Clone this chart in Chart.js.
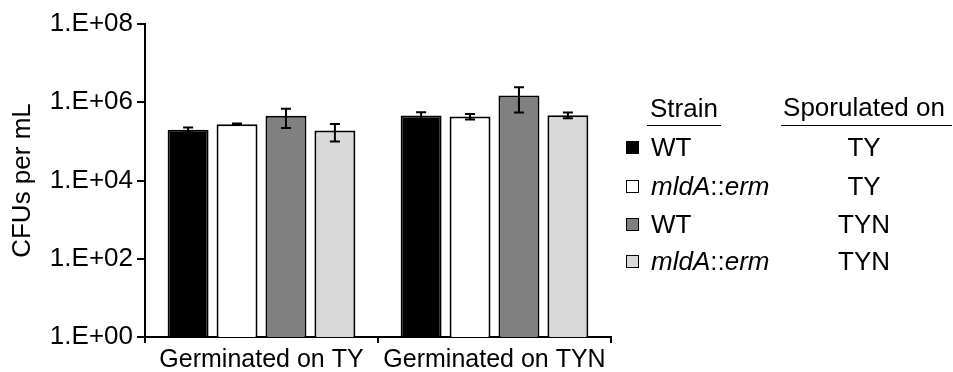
<!DOCTYPE html>
<html>
<head>
<meta charset="utf-8">
<script src="https://cdn.jsdelivr.net/npm/chart.js@4"></script>
<style>
  html, body { margin: 0; padding: 0; background: #fff; }
  body { width: 953px; height: 372px; position: relative; overflow: hidden;
         font-family: "Liberation Sans", Arial, sans-serif; color: #000; }
  #wrap { position: absolute; left: 0; top: 0; width: 953px; height: 372px; }
  .lg { position: absolute; font-size: 26px; line-height: 30px; white-space: nowrap; }
  .sw { position: absolute; width: 13px; height: 13px; box-sizing: border-box; border: 1.5px solid #000; }
  .ul { position: absolute; height: 0; border-top: 1.5px solid #000; }
</style>
</head>
<body>
<div id="wrap"><canvas id="c" width="953" height="372"></canvas></div>
<div id="legend"></div>
<script>
// ---- data ----
const categories = ["Germinated on TY", "Germinated on TYN"];
const seriesStrain = ["WT", "mldA::erm", "WT", "mldA::erm"];
const seriesMedium = ["TY", "TY", "TYN", "TYN"];
const wtTY     = [1.97e5, 4.57e5];
const mldaTY   = [2.75e5, 4.31e5];
const wtTYN    = [4.49e5, 1.48e6];
const mldaTYN  = [1.89e5, 4.68e5];
const wtTYErr    = [0.28e5, 1.0e5];
const mldaTYErr  = [0.12e5, 0.7e5];
const wtTYNErr   = [2.3e5, 0.93e6];
const mldaTYNErr = [0.9e5, 0.8e5];
const yTickValues = [1, 1e2, 1e4, 1e6, 1e8];
const yTickLabels = ["1.E+00", "1.E+02", "1.E+04", "1.E+06", "1.E+08"];

const colors = ["#000000", "#ffffff", "#808080", "#d9d9d9"];
const values = [wtTY, mldaTY, wtTYN, mldaTYN];
const errors = [wtTYErr, mldaTYErr, wtTYNErr, mldaTYNErr];

const FONT = "'Liberation Sans', Arial, sans-serif";

const errorBars = {
  id: "errorBars",
  afterDatasetsDraw(chart) {
    const ctx = chart.ctx;
    const y = chart.scales.y;
    ctx.save();
    ctx.strokeStyle = "#000";
    ctx.lineWidth = 2;
    chart.data.datasets.forEach((ds, di) => {
      const meta = chart.getDatasetMeta(di);
      meta.data.forEach((el, i) => {
        const v = ds.data[i], e = ds.errors[i];
        const top = y.getPixelForValue(v + e);
        const bot = y.getPixelForValue(Math.max(v - e, 1));
        const x = el.x, hw = 5;
        ctx.beginPath();
        ctx.moveTo(x, top); ctx.lineTo(x, bot);
        ctx.moveTo(x - hw, top); ctx.lineTo(x + hw, top);
        ctx.moveTo(x - hw, bot); ctx.lineTo(x + hw, bot);
        ctx.stroke();
      });
    });
    ctx.restore();
  }
};

new Chart(document.getElementById("c"), {
  type: "bar",
  data: {
    labels: categories,
    datasets: values.map((d, i) => ({
      label: seriesStrain[i] + " " + seriesMedium[i],
      data: d,
      errors: errors[i],
      backgroundColor: colors[i],
      borderColor: "#000",
      borderWidth: 2,
      categoryPercentage: 0.84,
      barPercentage: 0.837
    }))
  },
  options: {
    responsive: false,
    animation: false,
    events: [],
    layout: { padding: { left: 0, right: 342, top: 24, bottom: 0 } },
    plugins: { legend: { display: false }, tooltip: { enabled: false } },
    scales: {
      x: {
        type: "category",
        grid: { display: true, drawOnChartArea: false, drawTicks: true, tickLength: 6,
                color: "#000", lineWidth: 2, offset: true },
        border: { display: true, color: "#000", width: 2 },
        ticks: { color: "#000", font: { family: FONT, size: 25 }, padding: 2, maxRotation: 0, autoSkip: false },
        afterFit(s) { s.height = 35; }
      },
      y: {
        type: "logarithmic",
        min: 1, max: 1e8,
        afterBuildTicks(s) { s.ticks = yTickValues.map(v => ({ value: v })); },
        grid: { display: true, drawOnChartArea: false, drawTicks: true, tickLength: 8,
                color: "#000", lineWidth: 2 },
        border: { display: true, color: "#000", width: 2 },
        ticks: {
          color: "#000", font: { family: FONT, size: 26 }, padding: 4,
          callback: (v) => { const k = yTickValues.indexOf(v); return k >= 0 ? yTickLabels[k] : ""; }
        },
        title: { display: true, text: "CFUs per mL", color: "#000",
                 font: { family: FONT, size: 26 }, padding: { top: 7, bottom: 0 } },
        afterFit(s) { s.width = 145; }
      }
    }
  },
  plugins: [errorBars]
});

// ---- HTML legend (table-like) ----
const lg = document.getElementById("legend");
function addText(html, x, baseline, align) {
  const d = document.createElement("div");
  d.className = "lg";
  d.innerHTML = html;
  // line-height 30, font 26: baseline offset ≈ (30-29.04)/2 + 0.905*26 ≈ 24
  d.style.top = (baseline - 24) + "px";
  if (align === "center") { d.style.left = (x - 150) + "px"; d.style.width = "300px"; d.style.textAlign = "center"; }
  else d.style.left = x + "px";
  lg.appendChild(d);
}
function fmtStrain(s) {
  return s.indexOf("::") >= 0 ? s.split("::").map(p => "<i>" + p + "</i>").join("::") : s;
}
addText("Strain", 650, 117);
addText("Sporulated on", 864, 116, "center");
[[647, 721], [781, 952]].forEach(([a, b]) => {
  const u = document.createElement("div"); u.className = "ul";
  u.style.left = a + "px"; u.style.width = (b - a) + "px"; u.style.top = "125px";
  lg.appendChild(u);
});
const baselines = [156, 195, 233, 270];
seriesStrain.forEach((s, i) => {
  const sw = document.createElement("div"); sw.className = "sw";
  sw.style.left = "626px"; sw.style.top = (baselines[i] - 15) + "px";
  sw.style.background = colors[i];
  lg.appendChild(sw);
  addText(fmtStrain(s), 651, baselines[i]);
  addText(seriesMedium[i], 864, baselines[i], "center");
});
</script>
</body>
</html>
